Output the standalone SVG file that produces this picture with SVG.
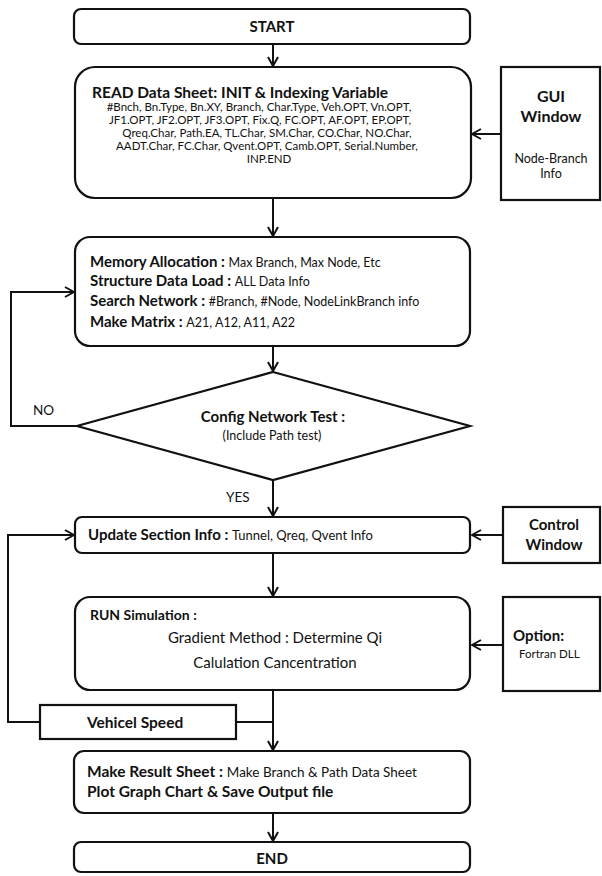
<svg xmlns="http://www.w3.org/2000/svg" width="602" height="876" viewBox="0 0 602 876">
<defs>
<marker id="arr" viewBox="0 0 12 12" refX="11" refY="6" markerWidth="12" markerHeight="12" markerUnits="userSpaceOnUse" orient="auto">
<path d="M2,1 L11,6 L2,11" fill="none" stroke="#111" stroke-width="2"/>
</marker>
<style>
.box{fill:#fff;stroke:#111;stroke-width:2.2}
.ln{fill:none;stroke:#111;stroke-width:2}
text{font-family:Lato,"Liberation Sans",Arial,sans-serif;fill:#111}
.b{font-weight:bold}
.t{font-size:15px;font-weight:bold}
.s{font-size:12.5px;font-weight:normal}
.v{font-size:11.5px}
.c{text-anchor:middle}
</style>
</defs>
<g id="connectors">
<path class="ln" d="M273,44 V66" marker-end="url(#arr)"/>
<path class="ln" d="M273,198 V236" marker-end="url(#arr)"/>
<path class="ln" d="M501,134 H472" marker-end="url(#arr)"/>
<path class="ln" d="M273,346 V371" marker-end="url(#arr)"/>
<path class="ln" d="M77,426 H11 V292 H74" marker-end="url(#arr)"/>
<path class="ln" d="M273,480 V516" marker-end="url(#arr)"/>
<path class="ln" d="M503,535 H472" marker-end="url(#arr)"/>
<path class="ln" d="M273,553 V596" marker-end="url(#arr)"/>
<path class="ln" d="M503,645 H472" marker-end="url(#arr)"/>
<path class="ln" d="M273,690 V750" marker-end="url(#arr)"/>
<path class="ln" d="M236,722 H273"/>
<path class="ln" d="M40,722 H8 V535 H74" marker-end="url(#arr)"/>
<path class="ln" d="M273,813 V841" marker-end="url(#arr)"/>
<text x="33" y="415" style="font-size:13.5px">NO</text>
<text x="226" y="502" style="font-size:13.5px">YES</text>
</g>
<g id="start">
<rect class="box" x="74" y="9" width="396" height="35" rx="7"/>
<text class="t c" x="272" y="32">START</text>
</g>
<g id="read">
<rect class="box" x="75" y="67" width="396" height="131" rx="20"/>
<text class="t" x="92" y="98" style="font-size:15.5px">READ Data Sheet: INIT &amp; Indexing Variable</text>
<text class="v c" x="259" y="111">#Bnch, Bn.Type, Bn.XY, Branch, Char.Type, Veh.OPT, Vn.OPT,</text>
<text class="v c" x="260" y="124">JF1.OPT, JF2.OPT, JF3.OPT, Fix.Q, FC.OPT, AF.OPT, EP.OPT,</text>
<text class="v c" x="267" y="137">Qreq.Char, Path.EA, TL.Char, SM.Char, CO.Char, NO.Char,</text>
<text class="v c" x="267" y="150">AADT.Char, FC.Char, Qvent.OPT, Camb.OPT, Serial.Number,</text>
<text class="v c" x="269" y="163">INP.END</text>
</g>
<g id="gui">
<rect class="box" x="501" y="67" width="99" height="133"/>
<text class="c b" x="551" y="102" style="font-size:16px">GUI</text>
<text class="c b" x="551" y="122" style="font-size:16px">Window</text>
<text class="c" x="551" y="163" style="font-size:12.5px">Node-Branch</text>
<text class="c" x="551" y="178" style="font-size:12.5px">Info</text>
</g>
<g id="memory">
<rect class="box" x="75" y="237" width="395" height="109" rx="15"/>
<text class="t" x="90" y="267">Memory Allocation : <tspan class="s">Max Branch, Max Node, Etc</tspan></text>
<text class="t" x="90" y="286">Structure Data Load : <tspan class="s">ALL Data Info</tspan></text>
<text class="t" x="90" y="306">Search Network : <tspan class="s">#Branch, #Node, NodeLinkBranch info</tspan></text>
<text class="t" x="90" y="327">Make Matrix : <tspan class="s">A21, A12, A11, A22</tspan></text>
</g>
<g id="config">
<polygon class="box" points="273,372 470,426 273,480 77,426"/>
<text class="c b" x="273" y="422" style="font-size:15px">Config Network Test :</text>
<text class="c" x="272" y="440" style="font-size:12.5px">(Include Path test)</text>
</g>
<g id="update">
<rect class="box" x="75" y="517" width="395" height="36" rx="7"/>
<text class="b" x="88" y="540" style="font-size:15px">Update Section Info : <tspan style="font-size:13px;font-weight:normal">Tunnel, Qreq, Qvent Info</tspan></text>
</g>
<g id="control">
<rect class="box" x="503" y="507" width="97" height="56"/>
<text class="c b" x="554" y="530" style="font-size:15px">Control</text>
<text class="c b" x="554" y="550" style="font-size:15px">Window</text>
</g>
<g id="run">
<rect class="box" x="75" y="597" width="395" height="93" rx="15"/>
<text class="b" x="90" y="620" style="font-size:14px">RUN Simulation :</text>
<text class="c" x="275" y="643" style="font-size:15px">Gradient Method : Determine Qi</text>
<text class="c" x="275" y="668" style="font-size:15px">Calulation Cancentration</text>
</g>
<g id="option">
<rect class="box" x="503" y="597" width="97" height="94"/>
<text class="b" x="513" y="641" style="font-size:15px">Option:</text>
<text x="519" y="658" style="font-size:11.5px">Fortran DLL</text>
</g>
<g id="vehicel">
<rect class="box" x="40" y="705" width="196" height="34"/>
<text class="b" x="87" y="728" style="font-size:15.5px">Vehicel Speed</text>
</g>
<g id="result">
<rect class="box" x="74" y="751" width="396" height="62" rx="10"/>
<text class="t" x="87" y="777" style="font-size:15.5px">Make Result Sheet : <tspan style="font-size:13.5px;font-weight:normal">Make Branch &amp; Path Data Sheet</tspan></text>
<text class="t" x="87" y="797" style="font-size:15.5px">Plot Graph Chart &amp; Save Output file</text>
</g>
<g id="end">
<rect class="box" x="74" y="842" width="396" height="30" rx="7"/>
<text class="t c" x="272" y="864">END</text>
</g>
</svg>
